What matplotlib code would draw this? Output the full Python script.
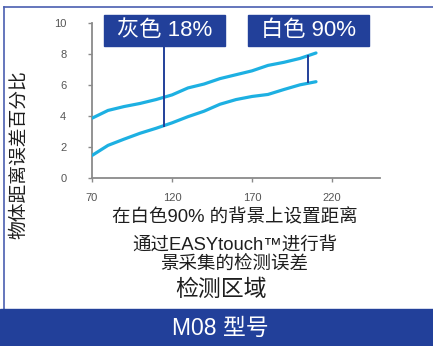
import matplotlib
matplotlib.use("Agg")
import matplotlib.pyplot as plt
from matplotlib.patches import Rectangle
from matplotlib.lines import Line2D

plt.rcParams['font.family'] = ['Liberation Sans', 'Noto Sans CJK SC', 'DejaVu Sans']

# ---- data ----
x_vals = [70, 80, 90, 100, 110, 120, 130, 140, 150, 160, 170, 180, 190, 200, 210]
grey18 = [3.85, 4.35, 4.6, 4.8, 5.05, 5.35, 5.8, 6.05, 6.4, 6.65, 6.9, 7.25, 7.45, 7.7, 8.05]
white90 = [1.45, 2.1, 2.5, 2.88, 3.2, 3.55, 3.95, 4.3, 4.75, 5.05, 5.25, 5.38, 5.7, 6.0, 6.2]
x_ticks = [70, 120, 170, 220]
y_ticks = [0, 2, 4, 6, 8, 10]
label_grey = "灰色 18%"
label_white = "白色 90%"
marker_grey = (115, 3.35, 8.55)
marker_white = (205, 6.15, 7.85)
xlabel_lines = ["在白色90% 的背景上设置距离", "通过EASYtouch™进行背", "景采集的检测误差"]
xlabel_main = "检测区域"
ylabel = "物体距离误差百分比"
title = "M08 型号"

W, H = 433, 346
fig = plt.figure(figsize=(W / 100, H / 100), dpi=100)
fig.patch.set_facecolor("white")

def fx(px):
    return px / W

def fy(py):
    return 1 - py / H

BLUE = "#22409a"
CYAN = "#1db0e2"
GRAY = "#8a8a8a"
TXT = "#1e1e1e"

# axes
ax_l, ax_r, ax_t, ax_b = 92, 380, 22.7, 178
ax = fig.add_axes([fx(ax_l), fy(ax_b), (ax_r - ax_l) / W, (ax_b - ax_t) / H])
ax.set_xlim(70, 250)
ax.set_ylim(0, 10)
ax.plot(x_vals, grey18, color=CYAN, lw=2.3, solid_capstyle="round", zorder=3)
ax.plot(x_vals, white90, color=CYAN, lw=2.3, solid_capstyle="round", zorder=3)
for xm, y0, y1 in (marker_grey, marker_white):
    ax.plot([xm, xm], [y0, y1], color=BLUE, lw=1.4, clip_on=False, zorder=4)
for s in ("top", "right"):
    ax.spines[s].set_visible(False)
for s in ("left", "bottom"):
    ax.spines[s].set_color(GRAY)
    ax.spines[s].set_linewidth(1.3)
ax.set_xticks(x_ticks)
ax.set_yticks(y_ticks)
ax.tick_params(axis="both", colors=GRAY, length=3, width=1, labelsize=8,
               labelcolor="#555555", direction="out")
ax.tick_params(axis="x", pad=8)
ax.tick_params(axis="y", pad=15.5)
ax.patch.set_alpha(0)

# label boxes
for (x0, x1), txt in (((104, 225), label_grey), ((248, 369), label_white)):
    y0, y1 = 15, 45.7
    fig.patches.append(Rectangle((fx(x0), fy(y1)), (x1 - x0) / W, (y1 - y0) / H,
                                 transform=fig.transFigure, color=BLUE, zorder=5))
    fig.text(fx((x0 + x1) / 2), fy((y0 + y1) / 2), txt, color="white", fontsize=16,
             ha="center", va="center", zorder=6)

# x label texts
fig.text(fx(235), fy(218), xlabel_lines[0], fontsize=13.3, ha="center", va="center", color=TXT)
fig.text(fx(234.5), fy(245), xlabel_lines[1], fontsize=13.3, ha="center", va="center", color=TXT)
fig.text(fx(234.5), fy(264), xlabel_lines[2], fontsize=13.3, ha="center", va="center", color=TXT)
fig.text(fx(220.5), fy(289), xlabel_main, fontsize=16.5, ha="center", va="center", color=TXT)

# y label
fig.text(fx(19), fy(155), ylabel, fontsize=13.5, rotation=90, ha="center", va="center", color=TXT)

# bottom band
fig.patches.append(Rectangle((0, 0), 1, (H - 309) / H, transform=fig.transFigure, color=BLUE, zorder=5))
fig.text(fx(220), fy(328), title, color="white", fontsize=16.5, ha="center", va="center", zorder=6)

# frame lines
fig.lines.append(Line2D([fx(3.5), 1], [fy(6.5), fy(6.5)], transform=fig.transFigure, color="#4a5fb0", lw=1.2))
fig.lines.append(Line2D([fx(3.5), fx(3.5)], [fy(6.5), fy(309)], transform=fig.transFigure, color="#4a5fb0", lw=1.2))

fig.savefig("out.png", dpi=100)
